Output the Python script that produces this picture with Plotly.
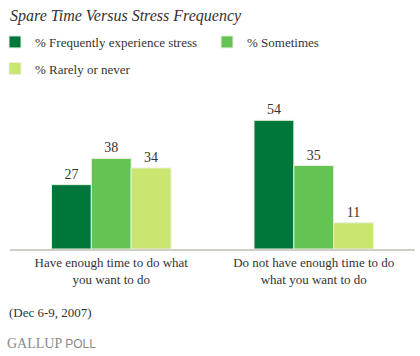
import plotly.graph_objects as go

categories = ["Have enough time to do what<br>you want to do",
              "Do not have enough time to do<br>what you want to do"]
series_names = ["% Frequently experience stress", "% Sometimes", "% Rarely or never"]
frequently = [27, 54]
sometimes = [38, 35]
rarely = [34, 11]
colors = ["#00773A", "#63C353", "#C8E670"]
legend_ids = ["legend", "legend3", "legend2"]

font_family = "'Liberation Serif', 'Times New Roman', serif"
W, H = 420, 356
L, R, T, B = 10, 5, 106, 107
PW = W - L - R


def px_x(x):
    return (x - L) / PW


fig = go.Figure()
for name, vals, col, lg in zip(series_names, [frequently, sometimes, rarely], colors, legend_ids):
    fig.add_trace(go.Bar(
        x=categories, y=vals, name=name, legend=lg,
        marker=dict(color=col, line=dict(color="#E8F0E0", width=1)),
        text=[str(v) for v in vals], textposition="outside",
        textfont=dict(family=font_family, size=14, color="#333333"),
        cliponaxis=False,
    ))

leg_common = dict(orientation="h", xref="paper", yref="container",
                  xanchor="left", yanchor="middle", traceorder="normal",
                  font=dict(family=font_family, size=13, color="#333333"),
                  bgcolor="rgba(0,0,0,0)")

fig.update_layout(
    width=W, height=H,
    margin=dict(l=L, r=R, t=T, b=B, autoexpand=False),
    paper_bgcolor="white", plot_bgcolor="white",
    barmode="group", bargap=0.41, bargroupgap=0,
    font=dict(family=font_family, size=13, color="#333333"),
    title=dict(text="<i>Spare Time Versus Stress Frequency</i>",
               x=10 / W, xref="container", xanchor="left",
               y=1 - 15 / H, yref="container", yanchor="middle",
               font=dict(family=font_family, size=16, color="#333333")),
    showlegend=True,
    legend=dict(x=px_x(-5), y=1 - 42 / H, **leg_common),
    legend3=dict(x=px_x(207), y=1 - 42 / H, **leg_common),
    legend2=dict(x=px_x(-5), y=1 - 68.5 / H, **leg_common),
    xaxis=dict(showline=True, linecolor="#CFCFC8", linewidth=2, ticks="",
               tickfont=dict(family=font_family, size=13, color="#333333")),
    yaxis=dict(range=[0, 60], visible=False),
    annotations=[
        dict(text="(Dec 6-9, 2007)", x=px_x(7), xref="paper", xanchor="left",
             y=(249 - 312) / 143, yref="paper", yanchor="middle", showarrow=False,
             font=dict(family=font_family, size=13, color="#333333")),
        dict(text="GALLUP <span style='font-family:Liberation Sans, Arial, sans-serif; font-size:12px'>POLL</span>",
             x=px_x(5), xref="paper", xanchor="left",
             y=(249 - 343) / 143, yref="paper", yanchor="middle", showarrow=False,
             font=dict(family=font_family, size=14, color="#8A8A8A")),
    ],
)

fig.write_html("out.html", config={"displayModeBar": False},
               post_script="document.body.style.margin='0';")
